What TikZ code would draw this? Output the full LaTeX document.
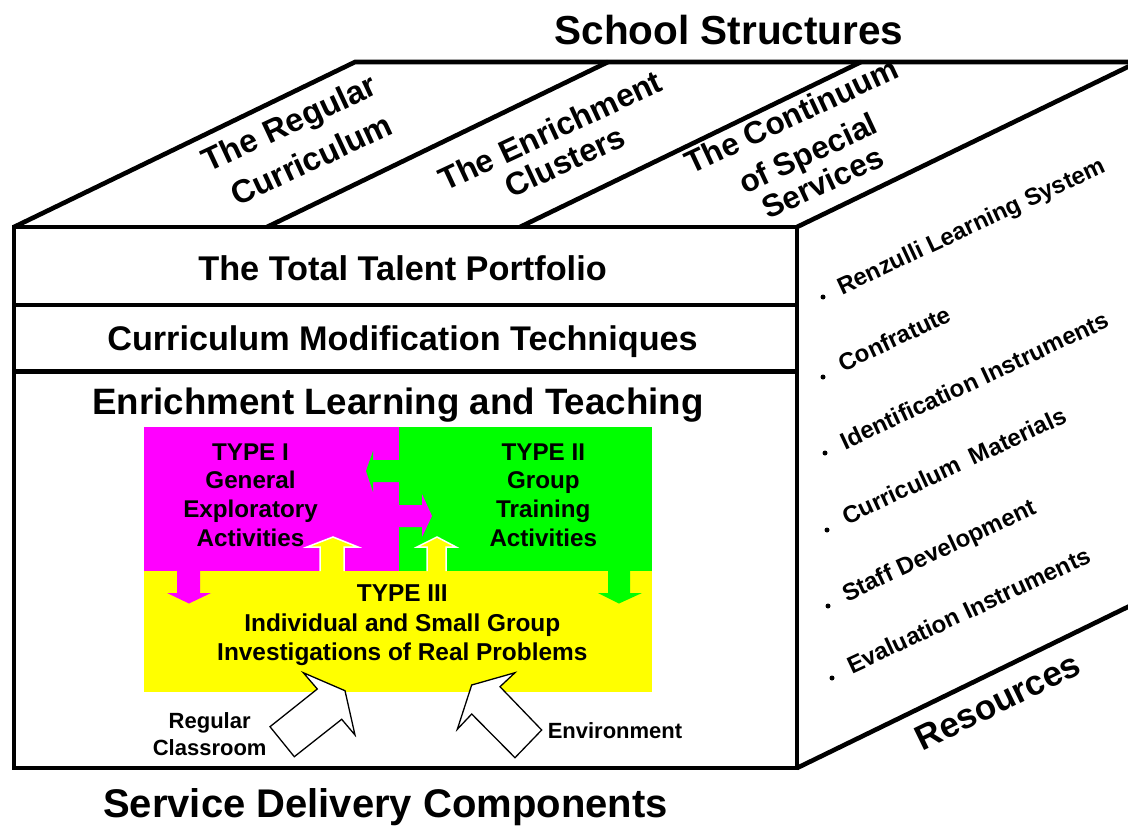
\documentclass[tikz,border=0pt]{standalone}
\usepackage{fontspec}
\setmainfont{Liberation Sans}
\definecolor{mag}{RGB}{255,0,255}
\definecolor{grn}{RGB}{0,255,0}
\definecolor{yel}{RGB}{255,255,0}
\tikzset{
  frame/.style={line width=4.6pt, line join=miter},
  txt/.style={inner sep=0pt, outer sep=0pt, font=\bfseries\fontsize{#1}{#1}\selectfont},
  tx/.style={txt=#1, anchor=base},
  rot/.style={txt=#1, anchor=base, rotate=25},
  item/.style={txt=24, anchor=base west, rotate=25},
  bul/.style={circle, fill=black, inner sep=0pt, minimum size=5pt},
  bigarrow/.style={draw=black, fill=white, line width=1.3pt, line join=miter},
  uparrow/.style={draw=white, line width=1.5pt}
}
\begin{document}
\begin{tikzpicture}[x=1pt,y=-1pt]
\useasboundingbox (0,0) rectangle (1128,827);
\clip (0,0) rectangle (1128,827);

% coloured panels
\fill[mag] (144,427) rectangle (399,572);
\fill[grn] (399,427) rectangle (652,572);
\fill[yel] (144,571) rectangle (652,692);

% small arrows inside panels
\fill[grn] (400,460) -- (373,460) -- (373,451) -- (366,471) -- (373,492) -- (373,482) -- (400,482) -- cycle;
\fill[mag] (398,505) -- (422,505) -- (422,494) -- (432,516) -- (422,537) -- (422,527) -- (398,527) -- cycle;
\fill[mag] (177,570) -- (177,593) -- (167,593) -- (189,603.5) -- (211,593) -- (200,593) -- (200,570) -- cycle;
\fill[grn] (608,570) -- (608,593) -- (598,593) -- (619,603.5) -- (642,593) -- (630,593) -- (630,570) -- cycle;
\fill[yel] (320,573) -- (320,547) -- (307,547) -- (333,537) -- (358,547) -- (344,547) -- (344,573) -- cycle;
\draw[uparrow] (320,571) -- (320,547) -- (307,547) -- (333,537) -- (358,547) -- (344,547) -- (344,571);
\fill[yel] (427,573) -- (427,547) -- (417,547) -- (437,537) -- (456,547) -- (446,547) -- (446,573) -- cycle;
\draw[uparrow] (427,571) -- (427,547) -- (417,547) -- (437,537) -- (456,547) -- (446,547) -- (446,571);

% big outlined arrows
\draw[bigarrow] (303.3,672.7) -- (345,690.7) -- (355,735) -- (341.7,719.3) -- (294.3,756.7) -- (270,726.7) -- (317.3,689) -- cycle;
\draw[bigarrow] (515,672.7) -- (500,686.7) -- (541.7,730) -- (515,757.7) -- (471.7,714) -- (457.3,729.3) -- (471.7,685) -- cycle;

% cube frame
\draw[frame] (14,227) rectangle (797,768);
\draw[frame] (14,305) -- (797,305);
\draw[frame] (14,371.5) -- (797,371.5);
\draw[frame] (14,227) -- (355,62) -- (1145,62);
\draw[frame] (267,227) -- (608,62);
\draw[frame] (520,227) -- (861,62);
\draw[frame] (797,227) -- (1140,61);
\draw[frame] (797,768) -- (1140,601);

% titles
\node[tx=40.5] (title) at (729,44) {School Structures};
\node[tx=40] (sdc) at (385.5,817) {Service Delivery Components};
\node[tx=34.3] (ttp) at (402.5,280) {The Total Talent Portfolio};
\node[tx=34.2] (cmt) at (402.5,350.5) {Curriculum Modification Techniques};
\node[tx=36.7] (elt) at (398,414) {Enrichment Learning and Teaching};

% top face labels
\node[rot=32.5] (rc1) at (294,133) {The Regular};
\node[rot=32.5] (rc2) at (316,170) {Curriculum};
\node[rot=32] (ec1) at (555,140.8) {The Enrichment};
\node[rot=32] (ec2) at (570,171.7) {Clusters};
\node[rot=31.5] (cs1) at (795.8,125.8) {The Continuum};
\node[rot=31.5] (cs2) at (812.5,163.3) {of Special};
\node[rot=31.5] (cs3) at (827.5,192.5) {Services};

% type texts
\node[tx=24.2] (t1a) at (250.5,460) {TYPE I};
\node[tx=24.2] (t1b) at (250.5,488.5) {General};
\node[tx=24.2] (t1c) at (250.5,517) {Exploratory};
\node[tx=24.2] (t1d) at (250.5,546.5) {Activities};
\node[tx=24.2] (t2a) at (543.3,460) {TYPE II};
\node[tx=24.2] (t2b) at (543.3,488.5) {Group};
\node[tx=24.2] (t2c) at (543.3,517) {Training};
\node[tx=24.2] (t2d) at (543.3,546.5) {Activities};
\node[tx=24.4] (t3a) at (402.3,601.7) {TYPE III};
\node[tx=24.4] (t3b) at (402.3,631.5) {Individual and Small Group};
\node[tx=24.4] (t3c) at (402.3,660) {Investigations of Real Problems};

% bottom labels
\node[tx=22] (rg1) at (209.7,728.3) {Regular};
\node[tx=22] (rg2) at (209.7,755) {Classroom};
\node[tx=22] (env) at (615,738.3) {Environment};

% resources list
\node[bul] (b1) at (823,297) {};
\node[bul] (b2) at (823,377) {};
\node[bul] (b3) at (825,453) {};
\node[bul] (b4) at (827,530) {};
\node[bul] (b5) at (828,606) {};
\node[bul] (b6) at (832,678) {};
\node[item] (r1) at (842,295) {Renzulli Learning System};
\node[item] (r2) at (843,372) {Confratute};
\node[item] (r3) at (845,450) {Identification Instruments};
\node[item] (r4) at (847,525) {Curriculum\hspace{12pt}Materials};
\node[item] (r5) at (847,602) {Staff Development};
\node[item] (r6) at (852,674) {Evaluation Instruments};
\node[txt=35, anchor=base, rotate=26] (res) at (1003,712) {Resources};
\end{tikzpicture}
\end{document}
